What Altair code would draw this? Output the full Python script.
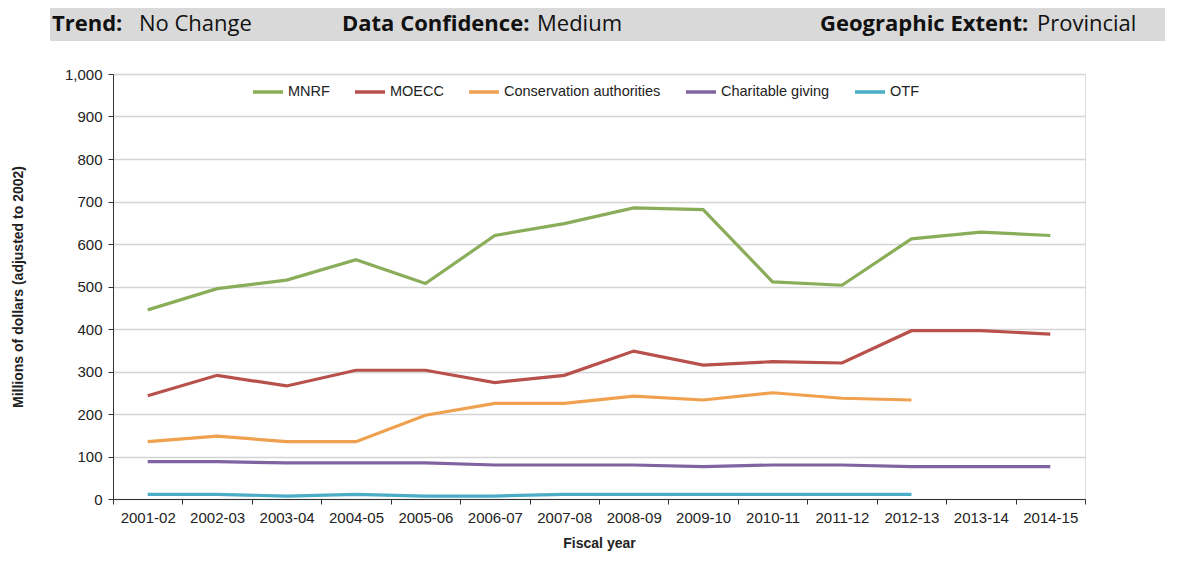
import altair as alt
import pandas as pd

years = ["2001-02", "2002-03", "2003-04", "2004-05", "2005-06", "2006-07", "2007-08",
         "2008-09", "2009-10", "2010-11", "2011-12", "2012-13", "2013-14", "2014-15"]
series_names = ["MNRF", "MOECC", "Conservation authorities", "Charitable giving", "OTF"]
colors = ["#8aad5a", "#b8504c", "#f0a150", "#8064a2", "#4bacc6"]

mnrf = [445, 495, 515, 563, 507, 620, 648, 685, 681, 511, 503, 612, 628, 620]
moecc = [243, 291, 266, 303, 303, 274, 291, 348, 315, 323, 320, 396, 396, 388]
cons_auth = [135, 148, 135, 135, 197, 225, 225, 242, 233, 250, 237, 233]
charitable = [88, 88, 85, 85, 85, 80, 80, 80, 76, 80, 80, 76, 76, 76]
otf = [11, 11, 7, 11, 7, 7, 11, 11, 11, 11, 11, 11]

header_labels = ["Trend:", "Data Confidence:", "Geographic Extent:"]
header_values = ["No Change", "Medium", "Provincial"]

rows = []
for name, vals in zip(series_names, [mnrf, moecc, cons_auth, charitable, otf]):
    for i, v in enumerate(vals):
        rows.append({"year": years[i], "series": name, "value": v, "order": i})
df = pd.DataFrame(rows)

W, H = 972, 425
FONT = "Liberation Sans"

lines = alt.Chart(df).mark_line(strokeWidth=3.2).encode(
    x=alt.X("year:N", sort=years,
            scale=alt.Scale(paddingInner=0, paddingOuter=0),
            axis=alt.Axis(title="Fiscal year", labelAngle=0, tickBand="extent",
                          domainColor="#333333", tickColor="#333333", tickSize=5,
                          labelFont=FONT, labelFontSize=15, labelColor="#222222",
                          labelPadding=6, titleFont=FONT, titleFontSize=14,
                          titleFontWeight="bold", titleColor="#222222", titlePadding=11)),
    y=alt.Y("value:Q", scale=alt.Scale(domain=[0, 1000], nice=False),
            axis=alt.Axis(title="Millions of dollars (adjusted to 2002)", values=list(range(0, 1001, 100)),
                          format=",d", grid=True, gridColor="#d4d4d4", gridWidth=1.5,
                          domainColor="#333333", tickColor="#333333", tickSize=5,
                          labelFont=FONT, labelFontSize=15, labelColor="#222222",
                          labelPadding=6, titleFont=FONT, titleFontSize=14,
                          titleFontWeight="bold", titleColor="#222222", titlePadding=39)),
    color=alt.Color("series:N", sort=series_names,
                    scale=alt.Scale(domain=series_names, range=colors),
                    legend=alt.Legend(title=None, orient="none", legendX=138, legendY=1,
                                      direction="horizontal", symbolType="stroke",
                                      symbolSize=900, symbolStrokeWidth=3.5,
                                      labelFont=FONT, labelFontSize=14.5,
                                      labelColor="#222222", columnPadding=18,
                                      labelOffset=3)),
    detail="series:N",
    order="order:Q",
)

band = alt.Chart(pd.DataFrame({"a": [0]})).mark_rect(color="#d9d9d9").encode(
    x=alt.value(-63), x2=alt.value(W + 80), y=alt.value(-70), y2=alt.value(-33)
)

hdr = pd.DataFrame({
    "lab": header_labels, "val": header_values,
    "px": [-61, 229, 707],
    "vx": [26, 424, 924],
})
hdr_lab = alt.Chart(hdr).mark_text(font="Open Sans", fontSize=22, fontWeight="bold", align="left",
                                   baseline="alphabetic", color="#111111").encode(
    text="lab:N", x=alt.X("px:Q", scale=None), y=alt.value(-43))
hdr_val = alt.Chart(hdr).mark_text(font="Open Sans", fontSize=22, align="left",
                                   baseline="alphabetic", color="#111111").encode(
    text="val:N", x=alt.X("vx:Q", scale=None), y=alt.value(-43))

chart = alt.layer(band, hdr_lab, hdr_val, lines).properties(
    width=W, height=H,
    autosize=alt.AutoSizeParams(type="none"),
    padding={"left": 105, "top": 66, "right": 80, "bottom": 60},
).configure_view(stroke=None).configure(background="white", font=FONT)

chart.save("out.html", embed_options={"renderer": "svg", "actions": False})
